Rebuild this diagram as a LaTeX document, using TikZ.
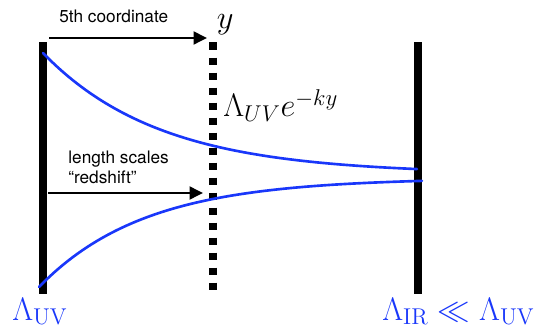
\documentclass[tikz,border=0pt]{standalone}
\usepackage{fix-cm}
\usepackage{amsmath}
\usepackage{amssymb}
\usepackage{fontspec}
\newfontfamily\helv{TeX Gyre Heros}
\usepackage{tikz}
\usetikzlibrary{arrows.meta}
\definecolor{curveblue}{RGB}{25,55,250}
\DeclareMathSizes{18.5}{18.5}{13}{10}

\begin{document}
\begin{tikzpicture}[
	every node/.style={inner sep=0pt},
	wall/.style={line width=4.3pt},
	probe/.style={line width=4.2pt, dash pattern=on 4pt off 4.54pt},
	push/.style={line width=1.1pt, -{Triangle[length=0.27cm, width=0.26cm]}},
	warp/.style={curveblue, line width=1.5pt, line cap=round},
	note/.style={font=\helv\fontsize{9.8}{11.4}\selectfont, align=left},
	big/.style={font=\fontsize{18.5}{21}\selectfont, anchor=base west},
	line join=round
	]
	
	\useasboundingbox (0,0) rectangle (10.8,6.58);
	
	% branes and the probe
	\coordinate (uvtop) at (0.86,5.73);
	\coordinate (uvbot) at (0.86,0.70);
	\coordinate (ytop) at (4.26,5.73);
	\coordinate (ybot) at (4.26,0.70);
	\coordinate (irtop) at (8.36,5.73);
	\coordinate (irbot) at (8.36,0.70);
	
	\draw[wall] (uvtop) -- (uvbot);
	\draw[wall] (irtop) -- (irbot);
	\draw[probe] (ytop) -- (ybot);
	
	% warped scales
	\draw[warp] plot[domain=0.86:8.34, samples=80]
	(\x, {3.10+2.42*exp(-0.4275*(\x-0.86))});
	\draw[warp] plot[domain=0.78:8.44, samples=80]
	(\x, {3.02-2.18*exp(-0.4735*(\x-0.78))});
	
	% arrows
	\coordinate (fifth0) at (0.98,5.82);
	\coordinate (fifth1) at (4.14,5.82);
	\coordinate (red0) at (0.96,2.72);
	\coordinate (red1) at (4.06,2.72);
	\draw[push] (fifth0) -- (fifth1);
	\draw[push] (red0) -- (red1);
	
	\node[note, anchor=base west] (coordtext) at (1.18,6.12) {5th coordinate};
	\node[note, anchor=north west] (redtext) at (1.36,3.566)
	{length scales\\“redshift”};
	
	\node[big] (ylabel) at (4.33,6.0) {$y$};
	\node[big] (warplabel) at (4.46,4.24) {$\Lambda_{UV}e^{-ky}$};
	\node[big, text=curveblue] (uvlabel) at (0.24,0.18) {$\Lambda_{\rm UV}$};
	\node[big, text=curveblue] (irlabel) at (7.64,0.18)
	{$\Lambda_{\rm IR}\ll\Lambda_{\rm UV}$};
	
\end{tikzpicture}
\end{document}
